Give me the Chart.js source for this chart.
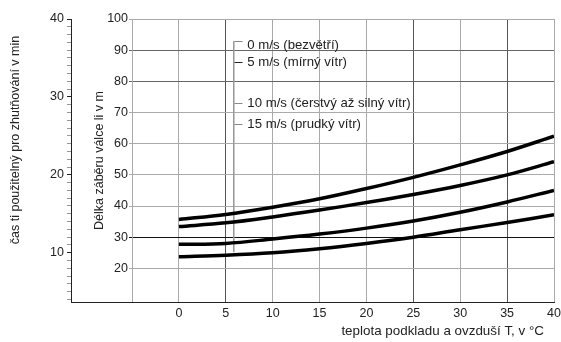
<!DOCTYPE html>
<html>
<head>
<meta charset="utf-8">
<script src="https://cdn.jsdelivr.net/npm/chart.js@4"></script>
<style>
  html, body { margin: 0; padding: 0; background: #fff; }
  #wrap { width: 561px; height: 342px; }
</style>
</head>
<body>
<div id="wrap"><canvas id="chart"></canvas></div>
<script>
// teplota podkladu a ovzduší (°C)
const temps = [0, 5, 10, 15, 20, 25, 30, 35, 40];
// délka záběru válce (m) pro jednotlivé rychlosti větru
const wind0 = [35.7, 37.3, 39.6, 42.3, 45.6, 49.2, 53.2, 57.5, 62.4];
const wind5 = [33.4, 34.6, 36.5, 38.7, 41.1, 43.7, 46.6, 50.0, 54.2];
const wind10 = [27.7, 28.0, 29.4, 31.0, 32.9, 35.2, 38.0, 41.3, 45.0];
const wind15 = [23.7, 24.2, 25.0, 26.3, 28.0, 30.0, 32.4, 34.7, 37.2];

// popisky
const legendLabels = ['0 m/s (bezvětří)', '5 m/s (mírný vítr)', '10 m/s (čerstvý až silný vítr)', '15 m/s (prudký vítr)'];
const legendLevels = [91.65, 86.1, 73.1, 66.3];
const leaderX = 5.85;
const leaderY = [92.9, 25.2];
const legendTextX = 7.3;

// osy
const xTicks = [-5, 0, 5, 10, 15, 20, 25, 30, 35, 40];
const lengthTicks = [20, 30, 40, 50, 60, 70, 80, 90, 100];
const timeTicks = [10, 20, 30, 40];
const timeMinor = [];
for (let v = 4; v <= 40; v++) timeMinor.push(v);

const xTitle = 'teplota podkladu a ovzduší T, v °C';
const timeTitle = 'čas ti použitelný pro zhutňování v min';

const FONT = '"Liberation Sans", Arial, sans-serif';
Chart.defaults.font.family = FONT;
Chart.defaults.font.size = 12.5;
Chart.defaults.color = '#222';

const toPoints = arr => temps.map((t, i) => ({ x: t, y: arr[i] }));

const curve = arr => ({
    data: toPoints(arr),
    borderColor: '#000',
    borderWidth: 3.5,
    pointRadius: 0,
    tension: 0.35,
    yAxisID: 'y',
    order: 1
});

// popisky, názvy os a čára dole
const notesPlugin = {
    id: 'notes',
    afterDraw(chart) {
        const { ctx, chartArea, scales } = chart;
        const xs = scales.x, ys = scales.y, yt = scales.yt;
        ctx.save();
        // spodní čára přes obě osy
        ctx.strokeStyle = '#222';
        ctx.lineWidth = 1;
        ctx.beginPath();
        ctx.moveTo(yt.right, chartArea.bottom + 0.5);
        ctx.lineTo(chartArea.right, chartArea.bottom + 0.5);
        ctx.stroke();

        // legenda s vodicí čárou
        const lx = Math.round(xs.getPixelForValue(leaderX)) + 0.5;
        ctx.font = '13.2px ' + FONT;
        ctx.textBaseline = 'middle';
        legendLabels.forEach((label, i) => {
            const py = Math.round(ys.getPixelForValue(legendLevels[i])) + 0.5;
            // první značka je roh na horním konci vodicí čáry
            const my = i === 0 ? Math.round(ys.getPixelForValue(leaderY[0])) + 0.5 : py;
            ctx.strokeStyle = i === 1 ? '#222' : '#888';
            ctx.beginPath();
            ctx.moveTo(lx, my);
            ctx.lineTo(lx + 8, my);
            ctx.stroke();
            ctx.fillStyle = '#222';
            ctx.fillText(label, xs.getPixelForValue(legendTextX), py);
        });

        // názvy os
        ctx.font = '13.4px ' + FONT;
        ctx.fillStyle = '#222';
        ctx.textAlign = 'right';
        ctx.fillText(xTitle, chartArea.right - 10, chartArea.bottom + 29);

        ctx.font = '12.5px ' + FONT;
        ctx.translate(16, 140);
        ctx.rotate(-Math.PI / 2);
        ctx.textAlign = 'center';
        ctx.fillText(timeTitle, 0, 0);
        ctx.restore();
    }
};

new Chart(document.getElementById('chart'), {
    type: 'line',
    data: {
        datasets: [
            curve(wind0),
            curve(wind5),
            curve(wind10),
            curve(wind15),
            {
                data: leaderY.map(v => ({ x: leaderX, y: v })),
                borderColor: '#999',
                borderWidth: 1,
                pointRadius: 0,
                yAxisID: 'y',
                order: 10
            }
        ]
    },
    options: {
        responsive: true,
        maintainAspectRatio: false,
        animation: false,
        layout: { padding: { top: 19, right: 7, bottom: 0, left: 0 } },
        plugins: {
            legend: { display: false },
            tooltip: { enabled: false }
        },
        scales: {
            x: {
                type: 'linear',
                min: -5,
                max: 40,
                afterBuildTicks: s => { s.ticks = xTicks.map(v => ({ value: v })); },
                afterFit: s => { s.height = 40; s.paddingRight = 0; },
                ticks: {
                    padding: 4,
                    maxRotation: 0,
                    callback: v => (v < 0 ? '' : v)
                },
                grid: {
                    drawTicks: false,
                    color: c => ([5, 25, 35].includes(c.tick && c.tick.value) ? '#555' : '#aaa')
                },
                border: { color: '#222' }
            },
            yt: {
                type: 'linear',
                position: 'left',
                weight: 1,
                min: 3.67,
                max: 40,
                afterBuildTicks: s => { s.ticks = timeMinor.map(v => ({ value: v })); },
                afterFit: s => { s.width = 71; },
                ticks: {
                    padding: 3,
                    autoSkip: false,
                    callback: v => (timeTicks.includes(v) ? v : '')
                },
                grid: {
                    drawOnChartArea: false,
                    tickLength: 4,
                    color: c => (timeTicks.includes(c.tick && c.tick.value) ? '#222' : '#999')
                },
                border: { color: '#222' }
            },
            y: {
                type: 'linear',
                position: 'left',
                weight: 0,
                min: 9.2,
                max: 100,
                afterBuildTicks: s => { s.ticks = lengthTicks.map(v => ({ value: v })); },
                afterFit: s => { s.width = 61; },
                ticks: { padding: 1, autoSkip: false },
                grid: {
                    tickLength: 3,
                    color: c => {
                        const v = c.tick && c.tick.value;
                        if (v === 30) return '#111';
                        if (v === 80 || v === 90) return '#666';
                        return '#aaa';
                    }
                },
                border: { color: '#aaa' },
                title: {
                    display: true,
                    text: 'Délka záběru válce li v m',
                    padding: { top: 21, bottom: 0 }
                }
            }
        }
    },
    plugins: [notesPlugin]
});
</script>
</body>
</html>
